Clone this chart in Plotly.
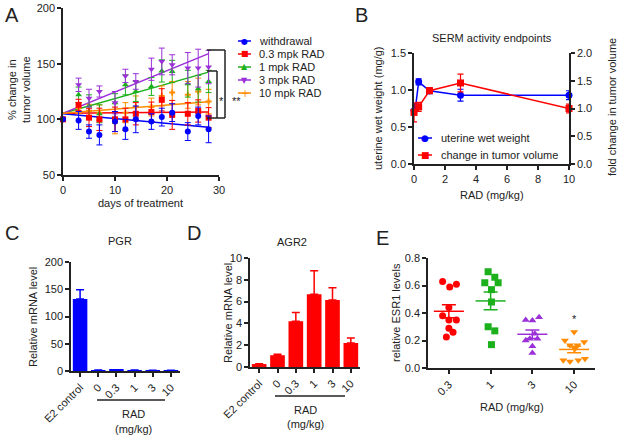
import numpy as np
import plotly.graph_objects as go

W, H = 621, 439
def px(x): return x / W
def py(y): return 1 - y / H

FONT = "Liberation Sans, Arial, sans-serif"
BLUE, RED, GREEN, PURPLE, ORANGE = "#0000FF", "#FF0000", "#1DB01D", "#9B30D9", "#FF8C00"

# ---------------- Panel A data ----------------
days = [0, 3, 5, 7, 10, 12, 14, 17, 19, 21, 24, 26, 28]
a_names = ["withdrawal", "0.3 mpk RAD", "1 mpk RAD", "3 mpk RAD", "10 mpk RAD"]
a_withdrawal = [100, 99, 89, 86, 98, 91, 100, 98, 102, 106, 89, 103, 91]
a_withdrawal_err = [0, 8, 6, 9, 9, 9, 12, 7, 8, 8, 8, 8, 12]
a_rad03 = [100, 113, 101.5, 100, 100, 100, 105, 106.5, 117.5, 104, 105, 107.5, 101.5]
a_rad03_err = [0, 5, 8, 10, 11, 10, 10, 9, 10, 13, 10, 10, 9]
a_rad1 = [100, 122, 112, 105, 115, 131, 125, 129.5, 143.5, 143, 132, 127.5, 134]
a_rad1_err = [0, 7, 10, 8, 8, 9, 9, 8, 10, 10, 12, 12, 10]
a_rad3 = [100, 131, 119, 125, 115, 139, 134, 145, 152, 149, 146, 146, 147]
a_rad3_err = [0, 6, 8, 5, 10, 6, 7, 10, 12, 9, 14, 17, 15]
a_rad10 = [100, 110, 107.5, 106, 97, 106, 111, 111, 121, 124, 122, 125, 116]
a_rad10_err = [0, 5, 6, 7, 10, 9, 10, 8, 9, 10, 12, 12, 11]
# linear-fit lines (value at day 0 and day 28)
fit_days = [0, 28]
a_fit_start = [105, 105.5, 105.5, 105.5, 105.5]
a_fit_end = [93, 106.6, 142.4, 159, 115.7]

# ---------------- Panel B data ----------------
b_uww_x = [0, 0.1, 0.3, 1, 3, 10]
b_uww = [0.72, 0.77, 1.11, 0.99, 0.93, 0.93]
b_uww_err = [0.05, 0.04, 0.04, 0.04, 0.08, 0.06]
b_tv_x = [0, 0.3, 1, 3, 10]
b_tv = [0.93, 1.03, 1.32, 1.46, 1.0]
b_tv_err = [0.17, 0.08, 0.05, 0.16, 0.08]

# ---------------- Panel C / D data ----------------
cd_cats = ["E2 control", "0", "0.3", "1", "3", "10"]
c_pgr = [132, 1.5, 2, 1.5, 1, 1]
c_pgr_err = [17, 0.4, 0.4, 0.4, 0.3, 0.3]
d_agr2 = [0.27, 1.08, 4.2, 6.67, 6.15, 2.2]
d_agr2_err = [0.03, 0.08, 0.8, 2.15, 1.13, 0.45]

# ---------------- Panel E data ----------------
e_cats = ["0.3", "1", "3", "10"]
e_vals = [
    [0.63, 0.59, 0.61, 0.44, 0.38, 0.35, 0.35, 0.29, 0.26, 0.225],
    [0.70, 0.66, 0.62, 0.62, 0.57, 0.48, 0.30, 0.27, 0.17],
    [0.35, 0.345, 0.37, 0.25, 0.213, 0.20, 0.213, 0.158, 0.109],
    [0.262, 0.20, 0.19, 0.165, 0.165, 0.14, 0.056, 0.048, 0.056, 0.068],
]
e_jitter = [
    [-0.15, 0.02, 0.18, 0.0, -0.15, 0.0, 0.18, 0.0, 0.1, -0.06],
    [-0.06, 0.1, -0.14, 0.18, 0.02, 0.02, -0.06, 0.1, 0.02],
    [-0.16, 0.0, 0.16, 0.06, -0.06, -0.16, 0.12, 0.0, 0.0],
    [0.0, -0.22, 0.24, -0.1, 0.08, 0.02, -0.26, -0.1, 0.1, 0.26],
]

fig = go.Figure()

# ---- Panel A ----
a_series = [a_withdrawal, a_rad03, a_rad1, a_rad3, a_rad10]
a_errs = [a_withdrawal_err, a_rad03_err, a_rad1_err, a_rad3_err, a_rad10_err]
a_colors = [BLUE, RED, GREEN, PURPLE, ORANGE]
a_symbols = ["circle", "square", "triangle-up", "triangle-down", "cross"]
for i in range(5):
    fig.add_trace(go.Scatter(
        x=fit_days, y=[a_fit_start[i], a_fit_end[i]], mode="lines",
        line=dict(color=a_colors[i], width=1.5), xaxis="x", yaxis="y",
        showlegend=False, hoverinfo="skip"))
for i in [4, 2, 3, 1, 0]:
    fig.add_trace(go.Scatter(
        x=days, y=a_series[i], mode="markers",
        marker=dict(color=a_colors[i], symbol=a_symbols[i], size=6 if i != 4 else 5),
        error_y=dict(type="data", array=a_errs[i], color=a_colors[i], thickness=1, width=3),
        xaxis="x", yaxis="y", showlegend=False, cliponaxis=False, name=a_names[i]))

# ---- Panel B ----
fig.add_trace(go.Scatter(
    x=b_uww_x, y=b_uww, mode="lines+markers", name="uterine wet weight",
    line=dict(color=BLUE, width=1.5), marker=dict(color=BLUE, symbol="circle", size=7),
    error_y=dict(type="data", array=b_uww_err, color=BLUE, thickness=1.2, width=3),
    xaxis="x2", yaxis="y2", showlegend=False, cliponaxis=False))
fig.add_trace(go.Scatter(
    x=b_tv_x, y=b_tv, mode="lines+markers", name="change in tumor volume",
    line=dict(color=RED, width=1.5), marker=dict(color=RED, symbol="square", size=7),
    error_y=dict(type="data", array=b_tv_err, color=RED, thickness=1.2, width=3),
    xaxis="x2", yaxis="y3", showlegend=False, cliponaxis=False))

# ---- Panel C ----
fig.add_trace(go.Bar(
    x=cd_cats, y=c_pgr, marker=dict(color=BLUE, line=dict(width=0)), width=0.8,
    error_y=dict(type="data", array=c_pgr_err, arrayminus=[0]*6, symmetric=False,
                 color=BLUE, thickness=1.5, width=4),
    xaxis="x3", yaxis="y4", showlegend=False))

# ---- Panel D ----
fig.add_trace(go.Bar(
    x=cd_cats, y=d_agr2, marker=dict(color=RED, line=dict(width=0)), width=0.8,
    error_y=dict(type="data", array=d_agr2_err, arrayminus=[0]*6, symmetric=False,
                 color=RED, thickness=1.5, width=4),
    xaxis="x4", yaxis="y5", showlegend=False))

# ---- Panel E ----
e_colors = [RED, GREEN, PURPLE, ORANGE]
e_symbols = ["circle", "square", "triangle-up", "triangle-down"]
for i, vals in enumerate(e_vals):
    xs = [i + j for j in e_jitter[i]]
    fig.add_trace(go.Scatter(
        x=xs, y=vals, mode="markers",
        marker=dict(color=e_colors[i], symbol=e_symbols[i], size=7),
        xaxis="x5", yaxis="y6", showlegend=False, cliponaxis=False))
    m = float(np.mean(vals))
    sem = float(np.std(vals, ddof=1) / np.sqrt(len(vals)))
    fig.add_trace(go.Scatter(
        x=[i - 0.36, i + 0.36], y=[m, m], mode="lines",
        line=dict(color=e_colors[i], width=1.5),
        xaxis="x5", yaxis="y6", showlegend=False, hoverinfo="skip"))
    fig.add_trace(go.Scatter(
        x=[i], y=[m], mode="markers", marker=dict(size=1, color=e_colors[i], opacity=0),
        error_y=dict(type="data", array=[sem], color=e_colors[i], thickness=1.5, width=7),
        xaxis="x5", yaxis="y6", showlegend=False, hoverinfo="skip"))

# ---------------- Axes ----------------
tickfont = dict(family=FONT, size=11, color="#222")
def ax(**kw):
    d = dict(showline=True, linecolor="#222", linewidth=1.5, ticks="outside",
             ticklen=4, tickwidth=1.5, tickcolor="#222", showgrid=False,
             zeroline=False, tickfont=tickfont, fixedrange=True, automargin=False)
    d.update(kw)
    return d

fig.update_layout(
    template="none",
    width=W, height=H, autosize=False,
    margin=dict(l=0, r=0, t=0, b=0, pad=0),
    paper_bgcolor="white", plot_bgcolor="white",
    font=dict(family=FONT, size=11, color="#222"),
    xaxis=ax(domain=[px(63), px(219)], anchor="y", range=[0, 30], tickvals=[0, 10, 20, 30]),
    yaxis=ax(domain=[py(175), py(8)], anchor="x", range=[50, 200], tickvals=[50, 100, 150, 200]),
    xaxis2=ax(domain=[px(414), px(569)], anchor="y2", range=[0, 10], tickvals=[0, 2, 4, 6, 8, 10]),
    yaxis2=ax(domain=[py(164), py(53)], anchor="x2", range=[0, 1.5],
              tickvals=[0, 0.5, 1.0, 1.5], tickformat=".1f"),
    yaxis3=ax(domain=[py(164), py(53)], anchor="x2", overlaying="y2", side="right",
              range=[0, 2], tickvals=[0, 0.5, 1.0, 1.5, 2.0], tickformat=".1f"),
    xaxis3=ax(domain=[px(71), px(180)], anchor="y4", type="category",
              range=[-0.5, 5.5], tickangle=-45),
    yaxis4=ax(domain=[py(371), py(262)], anchor="x3", range=[0, 200],
              tickvals=[0, 50, 100, 150, 200]),
    xaxis4=ax(domain=[px(250), px(360)], anchor="y5", type="category",
              range=[-0.5, 5.5], tickangle=-45),
    yaxis5=ax(domain=[py(367), py(258)], anchor="x4", range=[0, 10],
              tickvals=[0, 2, 4, 6, 8, 10]),
    xaxis5=ax(domain=[px(428), px(595)], anchor="y6", range=[-0.5, 3.5],
              tickvals=[0, 1, 2, 3], ticktext=e_cats, tickangle=-45),
    yaxis6=ax(domain=[py(368), py(258)], anchor="x5", range=[0, 0.8],
              tickvals=[0, 0.2, 0.4, 0.6, 0.8], tickformat=".1f"),
)

ann = []
def text(x, y, t, size=11, angle=0, xanchor="center", yanchor="middle", family=FONT, color="#222"):
    ann.append(dict(x=px(x), y=py(y), xref="paper", yref="paper", text=t,
                    showarrow=False, textangle=angle, xanchor=xanchor, yanchor=yanchor,
                    font=dict(family=family, size=size, color=color)))

# panel letters
for (x, y, t) in [(12, 15, "A"), (361, 15, "B"), (12, 233, "C"), (194, 233, "D"), (382, 238, "E")]:
    text(x, y, t, size=20)

# Panel A titles
text(19, 90, "% change in<br>tumor volume", angle=-90)
text(140, 203, "days of treatment")
# Panel B titles
text(492, 38, "SERM activity endpoints")
text(492, 195, "RAD (mg/kg)")
text(378, 108, "uterine wet weight (mg/g)", angle=-90)
text(612, 107, "fold change in tumor volume", angle=-90)
# Panel C
text(120, 241, "PGR")
text(33, 317, "Relative mRNA level", angle=-90)
text(133, 414, "RAD")
text(133, 429, "(mg/kg)")
# Panel D
text(292, 242, "AGR2")
text(228, 313, "Relative mRNA level", angle=-90)
text(305, 410, "RAD")
text(305, 424, "(mg/kg)")
# Panel E
text(396, 312, "relative ESR1 levels", angle=-90)
text(512, 407, "RAD (mg/kg)")
ann.append(dict(x=3, y=0.36, xref="x5", yref="y6", text="*", showarrow=False,
                xanchor="center", yanchor="middle",
                font=dict(family=FONT, size=11, color="#222")))

shapes = []
def line(x0, y0, x1, y1, color="#222", w=1.5):
    shapes.append(dict(type="line", xref="paper", yref="paper",
                       x0=px(x0), y0=py(y0), x1=px(x1), y1=py(y1),
                       line=dict(color=color, width=w)))

# significance brackets in A
line(207, 50, 225, 50); line(225, 50, 225, 118); line(217, 118, 225, 118)
line(207, 71, 217, 71); line(217, 71, 217, 118); line(207, 118, 217, 118)
text(221, 101, "*")
text(237, 101, "**")

# legend A (manual)
glyph = {"circle": "●", "square": "■", "triangle-up": "▲", "triangle-down": "▼", "cross": "+"}
for k in range(5):
    yy = 41 + 13 * k
    line(238, yy, 251, yy, color=a_colors[k], w=1.5)
    text(244.5, yy, glyph[a_symbols[k]], size=8 if k != 4 else 10,
         family="DejaVu Sans", color=a_colors[k])
    text(257, yy, a_names[k], xanchor="left")

# legend B (manual)
for k, (name, col, sym) in enumerate([("uterine wet weight", BLUE, "circle"),
                                      ("change in tumor volume", RED, "square")]):
    yy = 138 + 17 * k
    line(418, yy, 432, yy, color=col, w=1.5)
    text(425, yy, glyph[sym], size=9, family="DejaVu Sans", color=col)
    text(439, yy, name, xanchor="left")

# RAD underlines in C and D
line(97, 400, 165, 400)
line(275, 396, 345, 396)

fig.update_layout(annotations=ann, shapes=shapes)
fig.write_html("out.html", config={"displayModeBar": False},
               post_script="document.body.style.margin='0';")
